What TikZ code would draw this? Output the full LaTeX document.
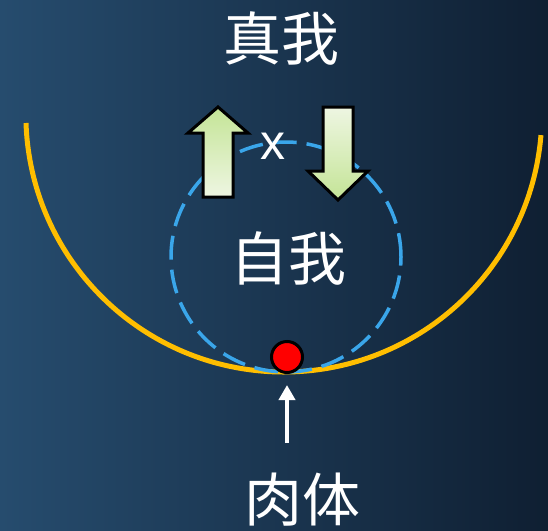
\documentclass[tikz,border=0pt]{standalone}
\usepackage{fontspec}
\newfontfamily\cjk{Noto Sans CJK SC}
\setsansfont{Liberation Sans}
\usetikzlibrary{arrows.meta}
\definecolor{bgL}{RGB}{38,76,110}
\definecolor{bgR}{RGB}{15,31,50}
\definecolor{gold}{RGB}{255,190,0}
\definecolor{dashblue}{RGB}{58,166,234}
\definecolor{headgreen}{RGB}{196,228,150}
\definecolor{tailgreen}{RGB}{238,246,226}
\begin{document}
\begin{tikzpicture}[x=1pt,y=-1pt,
  bigtext/.style={text=white, font=\cjk\fontsize{58}{60}\selectfont, inner sep=0pt},
  blockarrow/.style={draw=black, line width=3pt, line join=miter},
  goldline/.style={draw=gold, line width=5pt},
  egoring/.style={circle, draw=dashblue, line width=3.5pt, dash pattern=on 24pt off 10pt, minimum size=230pt, inner sep=0pt},
  bodydot/.style={circle, draw=black, line width=3pt, fill=red, minimum size=31pt, inner sep=0pt},
  whitearrow/.style={draw=white, line width=4pt, -{Triangle[width=16pt,length=15pt]}}
]
\shade[left color=bgL, right color=bgR] (0,0) rectangle (548,530);
\useasboundingbox (0,0) rectangle (548,530);

% outer gold arc
\coordinate (arcL) at (26,123);
\draw[goldline] (arcL) arc[start angle=178, end angle=4.7, radius=258];

% dashed ego circle
\node[egoring] (ring) at (286,257) {};

% texts
\node[bigtext] (zhenwo) at (281,38) {真我};
\node[bigtext] (ziwo) at (288,258) {自我};
\node[bigtext] (routi) at (302,500) {肉体};
\node[text=white, font=\sffamily\fontsize{50}{52}\selectfont, inner sep=0pt] (cross) at (273,146) {x};

% block arrows
\shade[blockarrow, top color=headgreen, bottom color=tailgreen]
  (218,107) -- (248,133) -- (233,133) -- (233,197) -- (203,197) -- (203,133) -- (188,133) -- cycle;
\shade[blockarrow, top color=tailgreen, bottom color=headgreen]
  (323,107) -- (353,107) -- (353,171) -- (368,171) -- (338,200) -- (308,171) -- (323,171) -- cycle;

% body dot and arrow
\node[bodydot] (body) at (287,357) {};
\coordinate (abase) at (287,443);
\draw[whitearrow, shorten >=11pt] (abase) -- (body.south);
\end{tikzpicture}
\end{document}
